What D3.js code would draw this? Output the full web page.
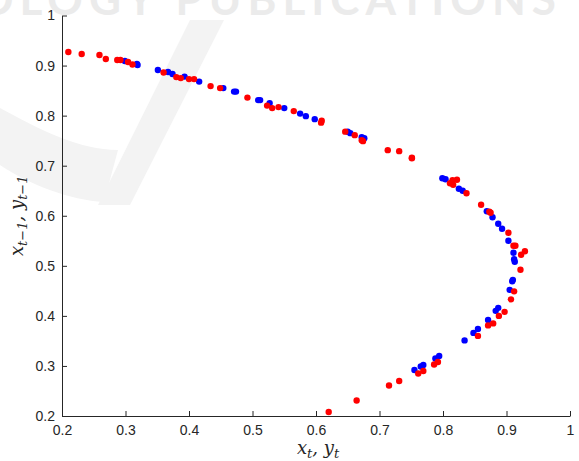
<!DOCTYPE html>
<html>
<head>
<meta charset="utf-8">
<script src="https://cdn.jsdelivr.net/npm/d3@7"></script>
<style>
body { margin: 0; background: #fff; }
.axis path, .axis line { stroke: #262626; }
.axis text { font-family: "Liberation Sans", Arial, sans-serif; font-size: 14px; fill: #262626; }
.lbl { font-family: "DejaVu Serif", serif; font-style: italic; font-size: 18px; fill: #262626; }
</style>
</head>
<body>
<div id="chart"></div>
<script>
// red series (x_t vs x_{t-1})
var redX = [0.210,0.231,0.259,0.269,0.287,0.292,0.304,0.311,0.360,0.380,0.387,0.400,0.408,0.434,0.449,0.492,0.523,0.531,0.541,0.565,0.609,0.608,0.646,0.661,0.672,0.674,0.713,0.731,0.751,0.751,0.815,0.822,0.811,0.816,0.837,0.860,0.873,0.875,0.903,0.911,0.914,0.929,0.923,0.922,0.912,0.907,0.897,0.888,0.879,0.871,0.855,0.792,0.786,0.769,0.761,0.731,0.715,0.664,0.620];
var redY = [0.927,0.923,0.921,0.913,0.911,0.911,0.907,0.902,0.886,0.877,0.875,0.873,0.873,0.859,0.855,0.836,0.820,0.815,0.817,0.809,0.790,0.786,0.768,0.761,0.751,0.749,0.731,0.729,0.716,0.715,0.671,0.672,0.665,0.662,0.645,0.622,0.608,0.606,0.566,0.540,0.540,0.529,0.522,0.492,0.449,0.433,0.408,0.400,0.385,0.381,0.360,0.308,0.303,0.290,0.285,0.270,0.261,0.231,0.208];

// blue series (y_t vs y_{t-1})
var blueX = [0.299,0.318,0.319,0.351,0.367,0.374,0.393,0.416,0.454,0.471,0.474,0.509,0.512,0.527,0.550,0.575,0.584,0.598,0.650,0.654,0.672,0.676,0.799,0.804,0.825,0.831,0.869,0.878,0.887,0.893,0.903,0.911,0.912,0.913,0.910,0.909,0.905,0.887,0.883,0.871,0.855,0.848,0.834,0.794,0.788,0.769,0.765,0.755];
var blueY = [0.909,0.903,0.901,0.891,0.887,0.883,0.878,0.868,0.855,0.848,0.848,0.831,0.831,0.825,0.815,0.804,0.799,0.793,0.768,0.765,0.757,0.755,0.675,0.673,0.654,0.650,0.609,0.597,0.584,0.574,0.550,0.526,0.513,0.508,0.472,0.469,0.452,0.416,0.410,0.392,0.374,0.366,0.351,0.320,0.315,0.302,0.299,0.292];

var xTicks = [0.2,0.3,0.4,0.5,0.6,0.7,0.8,0.9,1];
var yTicks = [0.2,0.3,0.4,0.5,0.6,0.7,0.8,0.9,1];

var W = 579, H = 461;
var margin = {top: 15.5, right: 9, bottom: 45, left: 62};

var svg = d3.select('#chart')
	.append('svg')
	.attr('width', W)
	.attr('height', H);

// faint publisher watermark behind the plot
var wm = svg.append('g').attr('class', 'watermark');
wm.append('path')
	.attr('d', 'M190,20 L224,20 L130,205 L98,205 Z')
	.attr('fill', '#f3f3f3');
wm.append('path')
	.attr('d', 'M0,108 C40,130 80,150 118,150 L104,202 C70,200 30,185 0,165 Z')
	.attr('fill', '#f3f3f3');
wm.append('text')
	.attr('x', -22)
	.attr('y', 15)
	.attr('textLength', 578)
	.attr('lengthAdjust', 'spacing')
	.style('font-family', 'Lato, sans-serif')
	.style('font-weight', 700)
	.style('font-size', '44px')
	.style('fill', '#ebebeb')
	.text('OLOGY PUBLICATIONS');

var g = svg.append('g');

var xScale = d3.scaleLinear()
	.domain([0.2, 1])
	.range([margin.left, W - margin.right]);

var yScale = d3.scaleLinear()
	.domain([0.2, 1])
	.range([H - margin.bottom, margin.top]);

var fmt = function (d) { return d === 1 ? '1' : d3.format('.1f')(d); };

var xAxis = d3.axisBottom(xScale)
	.tickValues(xTicks)
	.tickFormat(fmt)
	.tickSize(-5)
	.tickSizeOuter(0)
	.tickPadding(9);

var yAxis = d3.axisLeft(yScale)
	.tickValues(yTicks)
	.tickFormat(fmt)
	.tickSize(-5)
	.tickSizeOuter(0)
	.tickPadding(7);

g.append('g')
	.attr('class', 'axis')
	.attr('transform', 'translate(0,' + (H - margin.bottom) + ')')
	.call(xAxis);

g.append('g')
	.attr('class', 'axis')
	.attr('transform', 'translate(' + margin.left + ',0)')
	.call(yAxis);

// points: blue first, red drawn on top
var blue = blueX.map(function (v, i) { return [v, blueY[i]]; });
var red = redX.map(function (v, i) { return [v, redY[i]]; });

g.selectAll('.blue')
	.data(blue)
	.enter()
	.append('circle')
	.attr('class', 'blue')
	.attr('cx', function (d) { return xScale(d[0]); })
	.attr('cy', function (d) { return yScale(d[1]); })
	.attr('r', 3.2)
	.style('fill', '#0000ff');

g.selectAll('.red')
	.data(red)
	.enter()
	.append('circle')
	.attr('class', 'red')
	.attr('cx', function (d) { return xScale(d[0]); })
	.attr('cy', function (d) { return yScale(d[1]); })
	.attr('r', 3.2)
	.style('fill', '#ff0000');

// axis labels with subscripts
var xl = svg.append('text')
	.attr('class', 'lbl')
	.attr('text-anchor', 'middle')
	.attr('x', (margin.left + W - margin.right) / 2 + 2)
	.attr('y', 454);
xl.append('tspan').text('x');
xl.append('tspan').attr('dy', 4).style('font-size', '13px').text('t');
xl.append('tspan').attr('dy', -4).text(', y');
xl.append('tspan').attr('dy', 4).style('font-size', '13px').text('t');

var yl = svg.append('text')
	.attr('class', 'lbl')
	.attr('text-anchor', 'middle')
	.attr('transform', 'translate(23,' + (margin.top + H - margin.bottom) / 2 + ') rotate(-90)');
yl.append('tspan').text('x');
yl.append('tspan').attr('dy', 4).style('font-size', '13px').text('t\u22121');
yl.append('tspan').attr('dy', -4).text(', y');
yl.append('tspan').attr('dy', 4).style('font-size', '13px').text('t\u22121');
</script>
</body>
</html>
